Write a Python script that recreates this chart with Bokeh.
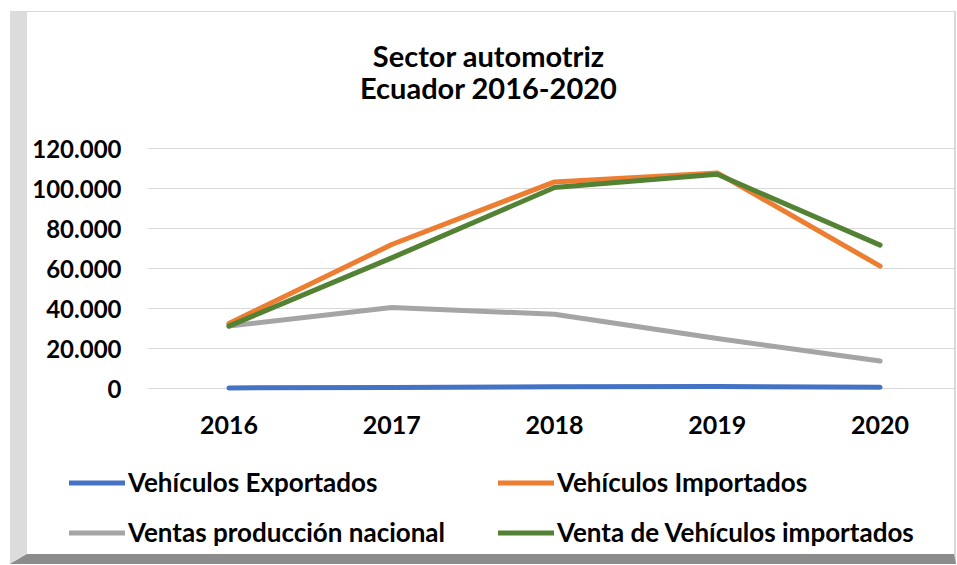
from bokeh.plotting import figure
from bokeh.models import FactorRange, Range1d, FixedTicker, Legend, LegendItem
from bokeh.core.properties import value
from bokeh.embed import file_html
from bokeh.resources import INLINE

years = ["2016", "2017", "2018", "2019", "2020"]
exportados = [300, 500, 900, 1000, 600]
importados = [32500, 72000, 103300, 107800, 61200]
ventas_nacional = [31200, 40500, 37100, 25000, 13700]
venta_importados = [31200, 65300, 100500, 107100, 71700]
y_ticks = [0, 20000, 40000, 60000, 80000, 100000, 120000]
series_names = ["Vehículos Exportados", "Vehículos Importados",
                "Ventas producción nacional", "Venta de Vehículos importados"]
series_colors = ["#4472C4", "#ED7D31", "#A5A5A5", "#548235"]
title_lines = ["Sector automotriz", "Ecuador 2016-2020"]
series = [exportados, importados, ventas_nacional, venta_importados]

FONT = "Lato"
W = 946            # outer width of each block (border-box)
CW = 927           # inner canvas width
EDGE = {"margin-left": "10px", "border-left": "17px solid #dcdcdc",
        "border-right": "2px solid #d9d9d9"}

# ---------- title block ----------
TH = 101
pt = figure(width=W, height=TH + 1, output_backend="svg", toolbar_location=None,
            x_range=Range1d(0, CW), y_range=Range1d(TH, 0),
            x_axis_location=None, y_axis_location=None,
            min_border=0, outline_line_color=None,
            styles=dict(EDGE, **{"margin-top": "11px", "border-top": "1px solid #d9d9d9"}))
pt.grid.visible = False
pt.text(x=[452, 452], y=[43, 74], text=title_lines,
        text_align="center", text_baseline="alphabetic",
        text_font=value(FONT), text_font_style="bold",
        text_font_size="29px", text_color="#000000")

# ---------- main plot ----------
p = figure(width=W, height=342, output_backend="svg", toolbar_location=None,
           x_range=FactorRange(*years, range_padding=0),
           y_range=Range1d(-2500, 122500),
           min_border_left=120, min_border_right=12,
           min_border_top=30, min_border_bottom=62,
           outline_line_color=None, styles=EDGE)

for vals, color in zip(series, series_colors):
    p.line(years, vals, line_color=color, line_width=5,
           line_cap="round", line_join="round")

p.xgrid.grid_line_color = None
p.ygrid.grid_line_color = "#d9d9d9"
p.ygrid.grid_line_width = 1

p.yaxis.ticker = FixedTicker(ticks=y_ticks)
p.yaxis.major_label_overrides = {t: f"{t:,}".replace(",", ".") for t in y_ticks}
for ax in (p.xaxis[0], p.yaxis[0]):
    ax.axis_line_color = None
    ax.major_tick_line_color = None
    ax.minor_tick_line_color = None
    ax.major_tick_in = 0
    ax.major_tick_out = 0
    ax.major_label_text_font = FONT
    ax.major_label_text_font_style = "bold"
    ax.major_label_text_color = "#000000"
p.yaxis.major_label_text_font_size = "24px"
p.xaxis.major_label_text_font_size = "25px"
p.yaxis.major_label_standoff = 26
p.xaxis.major_label_standoff = 22

# ---------- legend block ----------
LH = 99
pl = figure(width=W, height=LH + 10, output_backend="svg", toolbar_location=None,
            x_range=FactorRange(*years), y_range=Range1d(0, 1),
            x_axis_location=None, y_axis_location=None,
            min_border=0, outline_line_color=None,
            styles=dict(EDGE, **{"border-bottom": "10px solid #8c8c8c"}))
pl.grid.visible = False
keys = [pl.line(years, vals, line_color=c, line_width=5, line_cap="round", visible=False)
        for vals, c in zip(series, series_colors)]
order = [0, 2, 1, 3]   # column-major so the legend reads row by row
legend = Legend(items=[LegendItem(label=series_names[i], renderers=[keys[i]]) for i in order],
                location=(42, 16), orientation="vertical", nrows=2,
                glyph_width=56, glyph_height=31, label_height=31, label_width=352,
                label_standoff=3, spacing=18, padding=0, margin=0,
                border_line_color=None, background_fill_alpha=0,
                inactive_fill_alpha=0,
                label_text_font=FONT, label_text_font_style="bold",
                label_text_font_size="26px", label_text_color="#000000")
pl.add_layout(legend, "center")

open("out.html", "w").write(file_html([pt, p, pl], INLINE))
